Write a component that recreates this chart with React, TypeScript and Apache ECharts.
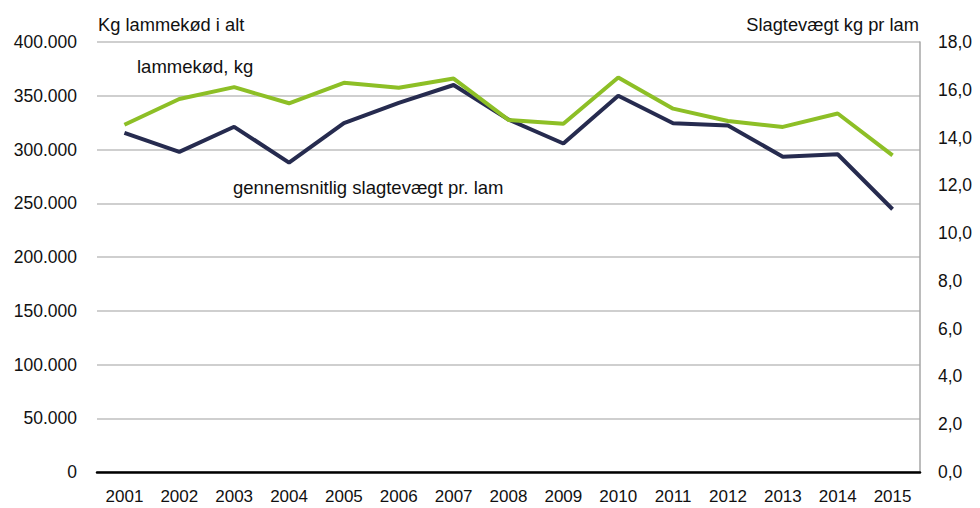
import React, { useEffect, useRef } from "react";
import * as echarts from "echarts";

const years = ["2001","2002","2003","2004","2005","2006","2007","2008","2009","2010","2011","2012","2013","2014","2015"];
const lammekodKg = [323000, 347000, 358000, 343000, 362000, 357500, 366000, 327500, 324000, 367000, 338000, 326500, 321000, 333500, 294500];
const slagtevaegt = [14.2, 13.4, 14.45, 12.95, 14.6, 15.45, 16.2, 14.75, 13.75, 15.75, 14.6, 14.5, 13.2, 13.3, 11.0];

const FONT = "'Liberation Sans', Arial, sans-serif";

export default function App() {
  const ref = useRef<HTMLDivElement>(null);
  useEffect(() => {
    if (!ref.current) return;
    const chart = echarts.init(ref.current, null, { renderer: "svg" });
    chart.setOption({
      animation: false,
      backgroundColor: "#ffffff",
      textStyle: { fontFamily: FONT },
      grid: { left: 97, right: 60, top: 42, bottom: 36 },
      xAxis: {
        type: "category",
        data: years,
        boundaryGap: true,
        axisLine: { show: true, lineStyle: { color: "#000000", width: 2.5 } },
        axisTick: { show: false },
        axisLabel: { color: "#111", fontSize: 17, fontFamily: FONT, margin: 16 },
      },
      yAxis: [
        {
          type: "value",
          min: 0,
          max: 400000,
          interval: 50000,
          axisLine: { show: false },
          axisTick: { show: false },
          splitLine: { show: true, lineStyle: { color: "#bfbfbf", width: 1.5 } },
          axisLabel: {
            color: "#111",
            fontSize: 17.5,
            fontFamily: FONT,
            margin: 20,
            formatter: (v: number) => (v === 0 ? "0" : String(v).replace(/\B(?=(\d{3})+(?!\d))/g, ".")),
          },
        },
        {
          type: "value",
          min: 0,
          max: 18,
          interval: 2,
          position: "right",
          axisLine: { show: true, lineStyle: { color: "#a6a6a6", width: 1.5 } },
          axisTick: { show: false },
          splitLine: { show: false },
          axisLabel: {
            color: "#111",
            fontSize: 17.5,
            fontFamily: FONT,
            margin: 18,
            formatter: (v: number) => v.toFixed(1).replace(".", ","),
          },
        },
      ],
      series: [
        {
          name: "lammekød, kg",
          type: "line",
          yAxisIndex: 0,
          data: lammekodKg,
          symbol: "none",
          lineStyle: { color: "#8dbf26", width: 4 },
          z: 3,
        },
        {
          name: "gennemsnitlig slagtevægt pr. lam",
          type: "line",
          yAxisIndex: 1,
          data: slagtevaegt,
          symbol: "none",
          lineStyle: { color: "#262b4f", width: 4 },
          z: 2,
        },
      ],
      graphic: [
        {
          type: "text",
          left: 98,
          top: 15,
          style: { text: "Kg lammekød i alt", fontSize: 18.3, fontFamily: FONT, fill: "#111" },
        },
        {
          type: "text",
          right: 61,
          top: 15,
          style: { text: "Slagtevægt kg pr lam", fontSize: 18.3, fontFamily: FONT, fill: "#111", textAlign: "right" },
        },
        {
          type: "text",
          left: 137,
          top: 57,
          style: { text: "lammekød, kg", fontSize: 18.5, fontFamily: FONT, fill: "#111" },
        },
        {
          type: "text",
          left: 233,
          top: 178,
          style: { text: "gennemsnitlig slagtevægt pr. lam", fontSize: 18.5, fontFamily: FONT, fill: "#111" },
        },
      ],
    });
    return () => chart.dispose();
  }, []);
  return <div ref={ref} style={{ width: 980, height: 508, position: "absolute", left: 0, top: 0 }} />;
}
